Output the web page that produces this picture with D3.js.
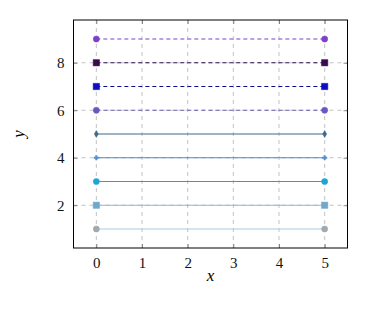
<!DOCTYPE html>
<html>
<head>
<meta charset="utf-8">
<script src="https://cdn.jsdelivr.net/npm/d3@7"></script>
<style>
  body { margin: 0; background: #fff; }
</style>
</head>
<body>
<div id="drawingArea"></div>
<script>
// chart data: every series is a flat line from x=0 to x=5
var xValues = [0, 5];
var yLevels = [9, 8, 7, 6, 5, 4, 3, 2, 1];
var seriesNames = ["s9", "s8", "s7", "s6", "s5", "s4", "s3", "s2", "s1"];
var markerColors = ["#7d40c8", "#3a0a4e", "#0d0dc2", "#6a58c0", "#3f6a8a", "#5590cc", "#1ca6d6", "#6ea9ca", "#a0a9b0"];
var lineColors = ["#7d40c8", "#2c0f52", "#0c0c8a", "#6a58b0", "#3f6a8a", "#4b8ac6", "#1ca6d6", "#86bcd8", "#a8cce0"];
var markerShapes = ["circle", "square", "square", "circle", "diamond", "star", "circle", "square", "circle"];
var dashed = [true, true, true, true, false, false, false, false, false];
var xTicks = [0, 1, 2, 3, 4, 5];
var yTicks = [2, 4, 6, 8];

var serifFont = "'Liberation Serif', 'DejaVu Serif', 'Times New Roman', serif";

function drawGraph() {
    var width = 385, height = 313;
    var plot = {left: 73.5, right: 347.5, top: 20, bottom: 248};

    var x = d3.scaleLinear().domain([-0.5, 5.5]).range([plot.left, plot.right]);
    var y = d3.scaleLinear().domain([0.2, 9.8]).range([plot.bottom, plot.top]);

    var svg = d3.select("#drawingArea").append("svg")
        .attr("width", width)
        .attr("height", height)
        .style("font-family", serifFont);

    // grid lines
    svg.append("g").selectAll("line")
        .data(xTicks).enter().append("line")
        .attr("x1", function(d) { return x(d); })
        .attr("x2", function(d) { return x(d); })
        .attr("y1", plot.top).attr("y2", plot.bottom)
        .attr("stroke", "#b4b4b4").attr("stroke-width", 0.8)
        .attr("stroke-dasharray", "4,4");
    svg.append("g").selectAll("line")
        .data(yTicks).enter().append("line")
        .attr("y1", function(d) { return y(d); })
        .attr("y2", function(d) { return y(d); })
        .attr("x1", plot.left).attr("x2", plot.right)
        .attr("stroke", "#b4b4b4").attr("stroke-width", 0.8)
        .attr("stroke-dasharray", "4,4");

    // series lines
    var line = d3.line()
        .x(function(d) { return x(d[0]); })
        .y(function(d) { return y(d[1]); });

    yLevels.forEach(function(level, i) {
        var pts = xValues.map(function(v) { return [v, level]; });
        svg.append("path")
            .datum(pts)
            .attr("d", line)
            .attr("fill", "none")
            .attr("stroke", lineColors[i])
            .attr("stroke-width", dashed[i] ? 1 : 1.1)
            .attr("stroke-dasharray", dashed[i] ? "4,3" : null);
    });

    // markers
    var symbolFor = {
        circle: d3.symbol().type(d3.symbolCircle).size(30),
        square: d3.symbol().type(d3.symbolSquare).size(40),
        diamond: d3.symbol().type(d3.symbolDiamond).size(14),
        star: d3.symbol().type(d3.symbolCross).size(12)
    };
    yLevels.forEach(function(level, i) {
        svg.append("g").selectAll("path")
            .data(xValues).enter().append("path")
            .attr("transform", function(d) { return "translate(" + x(d) + "," + y(level) + ")"; })
            .attr("d", symbolFor[markerShapes[i]])
            .attr("fill", markerColors[i])
            .attr("stroke", markerColors[i])
            .attr("stroke-width", 0.5);
    });

    // axes (ticks inside, pgfplots style)
    var xAxis = svg.append("g")
        .attr("transform", "translate(0," + plot.bottom + ")")
        .call(d3.axisBottom(x).tickValues(xTicks).tickSize(-4).tickPadding(9).tickFormat(d3.format("d")));
    var xAxisTop = svg.append("g")
        .attr("transform", "translate(0," + plot.top + ")")
        .call(d3.axisTop(x).tickValues(xTicks).tickSize(-4).tickFormat(""));
    var yAxis = svg.append("g")
        .attr("transform", "translate(" + plot.left + ",0)")
        .call(d3.axisLeft(y).tickValues(yTicks).tickSize(-4).tickPadding(9).tickFormat(d3.format("d")));
    var yAxisRight = svg.append("g")
        .attr("transform", "translate(" + plot.right + ",0)")
        .call(d3.axisRight(y).tickValues(yTicks).tickSize(-4).tickFormat(""));

    [xAxis, xAxisTop, yAxis, yAxisRight].forEach(function(g) {
        g.attr("font-family", null).attr("font-size", null);
        g.select(".domain").remove();
        g.selectAll(".tick line").attr("stroke", "#444").attr("stroke-width", 0.6);
        g.selectAll("text")
            .style("font-family", serifFont)
            .style("font-size", "15px")
            .attr("fill", "#111");
    });

    // frame
    svg.append("rect")
        .attr("x", plot.left).attr("y", plot.top)
        .attr("width", plot.right - plot.left)
        .attr("height", plot.bottom - plot.top)
        .attr("fill", "none").attr("stroke", "#000").attr("stroke-width", 1);

    // axis labels
    svg.append("text")
        .attr("x", (plot.left + plot.right) / 2).attr("y", 281)
        .attr("text-anchor", "middle")
        .style("font-family", serifFont)
        .style("font-size", "17px").style("font-style", "italic")
        .text("x");
    svg.append("text")
        .attr("transform", "translate(24," + (plot.top + plot.bottom) / 2 + ") rotate(-90)")
        .attr("text-anchor", "middle")
        .style("font-family", serifFont)
        .style("font-size", "17px").style("font-style", "italic")
        .text("y");
}

drawGraph();
</script>
</body>
</html>
